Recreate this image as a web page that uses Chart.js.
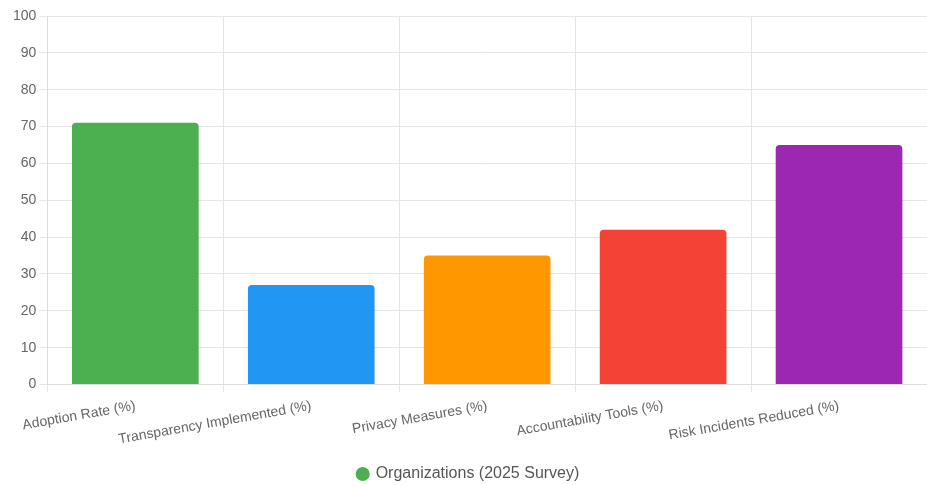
<!DOCTYPE html>
<html>
<head>
<meta charset="utf-8">
<script src="https://cdn.jsdelivr.net/npm/chart.js@4.4.1/dist/chart.umd.min.js"></script>
<style>
html,body{margin:0;padding:0;background:#fff;}
#wrap{width:927px;height:485px;position:relative;}
</style>
</head>
<body>
<div id="wrap"><canvas id="c"></canvas></div>
<script>
const categories = ["Adoption Rate (%)", "Transparency Implemented (%)", "Privacy Measures (%)", "Accountability Tools (%)", "Risk Incidents Reduced (%)"];
const seriesLabel = "Organizations (2025 Survey)";
const values = [71, 27, 35, 42, 65];
const barColors = ["#4CAF50", "#2196F3", "#FF9800", "#F44336", "#9C27B0"];

Chart.defaults.font.family = "'Liberation Sans', Arial, sans-serif";
Chart.defaults.color = "#666";

new Chart(document.getElementById('c'), {
  type: 'bar',
  data: {
    labels: categories,
    datasets: [{
      label: seriesLabel,
      data: values,
      backgroundColor: barColors,
      borderColor: barColors,
      borderWidth: 0,
      borderRadius: 4
    }]
  },
  options: {
    responsive: true,
    maintainAspectRatio: false,
    animation: false,
    layout: { padding: { top: 16, right: 0, left: 10, bottom: -7 } },
    scales: {
      y: {
        min: 0, max: 100,
        ticks: { stepSize: 10, font: { size: 14 }, color: '#666' },
        grid: { color: '#e5e5e5' },
        border: { color: '#ddd' }
      },
      x: {
        ticks: { font: { size: 14 }, color: '#666', minRotation: 10, maxRotation: 10, padding: 5 },
        grid: { color: '#e5e5e5' },
        border: { color: '#ddd' }
      }
    },
    plugins: {
      legend: {
        position: 'bottom',
        labels: { usePointStyle: true, pointStyle: 'circle', boxWidth: 10, boxHeight: 10, font: { size: 16 }, color: '#555', padding: 13 }
      },
      tooltip: { enabled: false }
    }
  }
});
</script>
</body>
</html>
